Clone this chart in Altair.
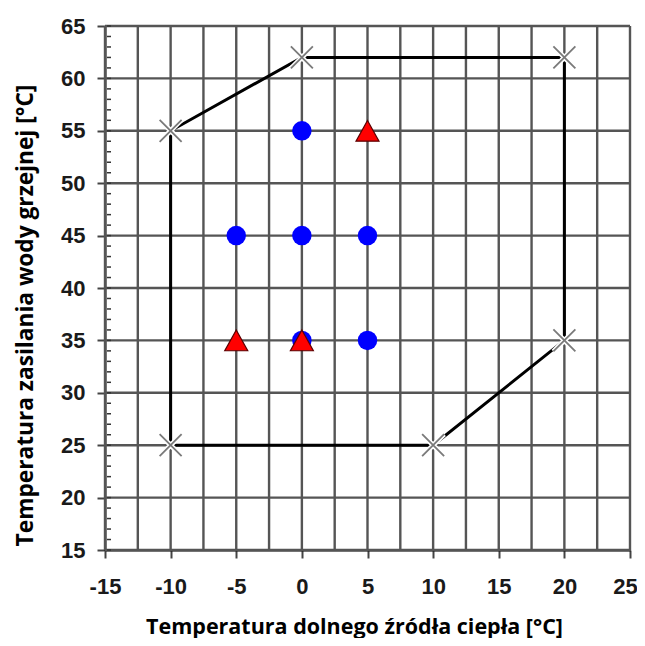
import altair as alt
import pandas as pd

# Envelope (operating range) polygon, closed
env_x = [-10, -10, 0, 20, 20, 10, -10]
env_y = [25, 55, 62, 62, 35, 25, 25]
# Vertices marked with X
vert_x = [-10, 0, 20, 20, 10, -10]
vert_y = [55, 62, 62, 35, 25, 25]
# Blue circle points
circ_x = [0, -5, 0, 5, 0, 5]
circ_y = [55, 45, 45, 45, 35, 35]
# Red triangle points
tri_x = [5, -5, 0]
tri_y = [55, 35, 35]

x_ticks = [-15, -10, -5, 0, 5, 10, 15, 20, 25]
y_ticks = [15, 20, 25, 30, 35, 40, 45, 50, 55, 60, 65]
x_grid = [-15, -12.5, -10, -7.5, -5, -2.5, 0, 2.5, 5, 7.5, 10, 12.5, 15, 17.5, 20, 22.5, 25]
y_minor = list(range(15, 66))

env_df = pd.DataFrame({"x": env_x, "y": env_y, "i": list(range(len(env_x)))})
vert_df = pd.DataFrame({"x": vert_x, "y": vert_y})
circ_df = pd.DataFrame({"x": circ_x, "y": circ_y})
tri_df = pd.DataFrame({"x": tri_x, "y": tri_y})
xg_df = pd.DataFrame({"x": x_grid})
yg_df = pd.DataFrame({"y": y_ticks})
ym_df = pd.DataFrame({"y": y_minor})

xscale = alt.Scale(domain=[-15, 25], nice=False, zero=False)
yscale = alt.Scale(domain=[15, 65], nice=False, zero=False)

LABEL_FONT = "Liberation Sans Narrow, Liberation Sans, Arial"

xaxis = alt.Axis(
    values=x_ticks, grid=False, labelExpr="'' + datum.value",
    tickSize=8, tickColor="#444444", tickWidth=2,
    domainColor="#000000", domainWidth=2,
    labelFont=LABEL_FONT, labelFontSize=22, labelFontWeight="bold",
    labelColor="#1a1a1a", labelPadding=18, labelFlush=False,
    labelOffset={"condition": {"test": "datum.value == 25", "value": -5}, "value": 0},
    title="Temperatura dolnego źródła ciepła [°C]",
    titleFont="Open Sans", titleFontSize=21.5, titleFontWeight="bold",
    titleColor="#000000", titleX=249, titleY=83, titleBaseline="alphabetic",
    titleAlign="center",
)
yaxis = alt.Axis(
    values=y_ticks, grid=False, labelExpr="'' + datum.value",
    tickSize=8, tickColor="#444444", tickWidth=2,
    domainColor="#000000", domainWidth=2,
    labelFont=LABEL_FONT, labelFontSize=22, labelFontWeight="bold",
    labelColor="#1a1a1a", labelPadding=12, labelFlush=False,
    title="Temperatura zasilania wody grzejnej [°C]",
    titleFont="Open Sans", titleFontSize=22.7, titleFontWeight="bold",
    titleColor="#000000", titleX=-80, titleY=289, titleBaseline="middle",
    titleAlign="center", titleAngle=270,
)


def X(f):
    return alt.X(f"{f}:Q", scale=xscale, axis=xaxis)


def Y(f):
    return alt.Y(f"{f}:Q", scale=yscale, axis=yaxis)


vgrid = alt.Chart(xg_df).mark_rule(color="#555555", strokeWidth=2.4).encode(x=X("x"))
hgrid = alt.Chart(yg_df).mark_rule(color="#555555", strokeWidth=2.4).encode(y=Y("y"))
minor = alt.Chart(ym_df).mark_rule(color="#333333", strokeWidth=1.5).encode(
    y=Y("y"), x=alt.value(2), x2=alt.value(6)
)

env = alt.Chart(env_df).mark_line(color="#000000", strokeWidth=3).encode(
    x=X("x"), y=Y("y"), order="i:Q"
)

xshape = "M-1,-1L1,1M-1,1L1,-1"
halo = alt.Chart(vert_df).mark_point(
    shape=xshape, filled=False, size=484, stroke="#ffffff", strokeWidth=5, opacity=1
).encode(x=X("x"), y=Y("y"))
xmark = alt.Chart(vert_df).mark_point(
    shape=xshape, filled=False, size=484, stroke="#7a7a7a", strokeWidth=1.8, opacity=1
).encode(x=X("x"), y=Y("y"))

circles = alt.Chart(circ_df).mark_circle(size=380, color="#0000ff", opacity=1).encode(
    x=X("x"), y=Y("y")
)
tris = alt.Chart(tri_df).mark_point(
    shape="M0,-0.9L1,0.9L-1,0.9Z", filled=True, size=529,
    fill="#ff0000", stroke="#5a0000", strokeWidth=1.2, opacity=1, fillOpacity=1
).encode(x=X("x"), y=Y("y"))

chart = alt.layer(vgrid, hgrid, minor, env, halo, xmark, circles, tris).properties(
    width=525, height=524,
    padding={"left": 97, "top": 18, "right": 7, "bottom": 88},
    autosize=alt.AutoSizeParams(type="none"),
    background="#ffffff",
).configure_view(stroke=None)

chart.save("out.html", embed_options={"renderer": "svg", "actions": False})
